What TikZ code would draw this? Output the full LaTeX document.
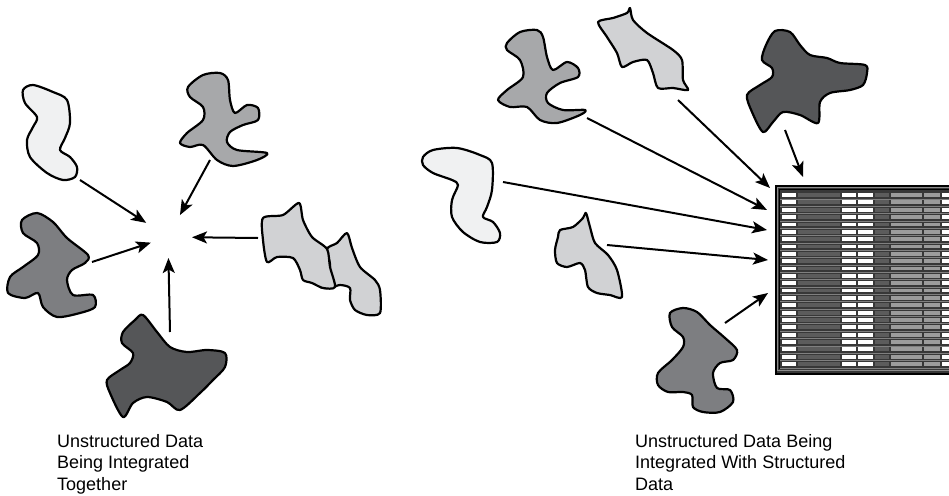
\documentclass[tikz,border=0pt]{standalone}
\usepackage{fontspec}
\setmainfont{Liberation Sans}
\usepackage{tikz}
\usetikzlibrary{arrows.meta,positioning}

\definecolor{blobpale}{HTML}{F0F1F2}
\definecolor{bloblight}{HTML}{D1D2D4}
\definecolor{blobmid}{HTML}{A7A8AA}
\definecolor{blobdim}{HTML}{7D7E81}
\definecolor{blobdark}{HTML}{555658}
\definecolor{celldark}{HTML}{5C5C5C}
\definecolor{cellmid}{HTML}{9C9C9C}

\begin{document}
\begin{tikzpicture}[
    x=1pt, y=-1pt,
    font=\fontsize{18}{21.5}\selectfont,
    blob/.style={draw=black, line width=2.2pt, line join=round},
    arrow/.style={-{Stealth[length=15pt,width=12pt,inset=3.5pt]}, line width=2pt},
    tablebox/.style={rectangle, draw=black, line width=1.6pt, fill=black!78, anchor=north west, inner sep=0pt, minimum width=200pt, minimum height=188pt},
    caption/.style={anchor=north west, inner sep=0pt, align=left}
]
    \useasboundingbox (0,0) rectangle (949,495);
    \clip (0,0) rectangle (949,495);

    \filldraw[blob, fill=blobpale] plot[smooth cycle] coordinates {(23,90) (33,85) (53,92) (67,100) (70,123) (65,138) (60,150) (70,157) (77,167) (75,177) (63,180) (47,173) (30,157) (27,140) (33,127) (37,117) (25,103)};
    \filldraw[blob, fill=blobmid] plot[smooth cycle] coordinates {(188,87) (203,75) (220,73) (228,80) (230,100) (235,113) (247,105) (258,108) (258,120) (243,125) (230,132) (227,142) (237,150) (267,153) (257,160) (233,166) (217,160) (203,145) (190,147) (180,143) (187,133) (203,120) (203,107) (190,97)};
    \filldraw[blob, fill=blobdim] plot[smooth cycle] coordinates {(22,220) (37,213) (53,222) (67,238) (88,255) (85,263) (72,270) (67,280) (73,295) (93,295) (95,307) (80,313) (57,317) (43,307) (38,293) (25,298) (8,293) (10,277) (23,267) (38,255) (37,243) (23,233)};
    \filldraw[blob, fill=blobdark] plot[smooth cycle] coordinates {(143,315) (157,332) (170,347) (187,352) (207,350) (225,353) (225,367) (213,380) (200,393) (180,410) (167,402) (147,397) (133,403) (123,417) (110,393) (107,380) (120,370) (130,363) (133,353) (122,343) (123,332) (135,320)};
    \filldraw[blob, fill=bloblight] plot[smooth cycle, tension=0.45] coordinates {(327,249) (337,243) (347,233) (352,248) (360,267) (375,280) (380,290) (380,313) (367,315) (355,310) (350,300) (350,288) (340,285) (330,288) (320,286) (330,267)};
    \filldraw[blob, fill=bloblight] plot[smooth cycle, tension=0.45] coordinates {(263,218) (283,215) (299,203) (303,220) (312,237) (327,249) (330,267) (335,287) (323,288) (312,283) (303,280) (300,270) (293,258) (277,257) (267,262) (263,240)};

    \coordinate (hub) at (168,237);
    \coordinate (pale) at (80,180);
    \coordinate (bird) at (210,160);
    \coordinate (lobe) at (92,262);
    \coordinate (cross) at (170,332);
    \coordinate (pages) at (258,238);

    \draw[arrow, shorten >=26pt] (pale) -- (hub);
    \draw[arrow, shorten >=25pt] (bird) -- (hub);
    \draw[arrow, shorten >=18pt] (lobe) -- (hub);
    \draw[arrow, shorten >=21pt] (cross) -- (hub);
    \draw[arrow, shorten >=24pt] (pages) -- (hub);

    \filldraw[blob, fill=blobmid] plot[smooth cycle] coordinates {(507,43) (520,32) (537,30) (543,37) (547,57) (553,70) (567,62) (578,68) (578,77) (560,83) (547,93) (548,103) (563,110) (585,110) (580,115) (557,123) (540,120) (527,107) (510,107) (498,100) (507,90) (523,77) (520,60) (507,50)};
    \filldraw[blob, fill=bloblight] plot[smooth cycle, tension=0.45] coordinates {(598,22) (613,18) (627,13) (630,8) (633,20) (647,33) (673,50) (682,60) (683,80) (688,90) (673,88) (658,88) (653,73) (647,60) (633,62) (622,67) (617,53) (607,37)};
    \filldraw[blob, fill=blobdark] plot[smooth cycle] coordinates {(762,60) (766,45) (775,31) (790,32) (800,45) (810,55) (827,58) (840,63) (865,65) (867,73) (863,85) (850,90) (830,93) (820,102) (818,123) (800,115) (783,112) (773,122) (763,132) (752,112) (747,95) (760,85) (772,77) (772,68)};
    \filldraw[blob, fill=blobpale] plot[smooth cycle] coordinates {(423,157) (433,150) (457,148) (480,155) (492,163) (492,190) (487,207) (483,217) (493,222) (500,233) (497,242) (480,242) (463,232) (452,217) (452,200) (458,185) (452,180) (433,173) (423,165)};
    \filldraw[blob, fill=bloblight] plot[smooth cycle, tension=0.45] coordinates {(560,230) (573,227) (583,218) (586,213) (590,227) (595,243) (608,255) (617,270) (622,297) (610,295) (597,293) (588,287) (585,270) (580,263) (567,267) (557,263) (555,250) (558,237)};
    \filldraw[blob, fill=blobdim] plot[smooth cycle] coordinates {(670,313) (683,308) (697,312) (710,325) (725,338) (737,350) (733,360) (720,363) (713,373) (717,388) (730,390) (733,402) (720,412) (703,412) (693,407) (692,395) (683,392) (668,392) (658,385) (658,373) (672,360) (683,347) (683,337) (672,327)};

    \node[tablebox] (tbl) at (775,185) {};
    \draw[black!45, line width=1pt] (777.5,187.5) rectangle (980,370.5);
    \draw[black, line width=1pt] (779.5,189.5) rectangle (980,368.5);
    \foreach \r in {0,...,23} {
        \pgfmathsetmacro\yy{195+7.35*\r}
        \draw[black!50, line width=0.4pt] (780,\yy+3.7) -- (980,\yy+3.7);
        \foreach \xa/\xb/\c in {782/796/white, 798/840/celldark, 842/856/white, 858/873/white, 875/889/celldark, 891/922/cellmid, 924/940/cellmid, 942/960/white}
            \fill[\c] (\xa,\yy-1.9) rectangle (\xb,\yy+1.9);
    }

    \coordinate (tipbird) at (767,210);
    \coordinate (tipflag) at (770,188);
    \coordinate (tipdark) at (803,177);
    \coordinate (tippale) at (767,230);
    \coordinate (tipleaf) at (768,260);
    \coordinate (tiplobe) at (768,293);
    \coordinate (rbird) at (587,118);
    \coordinate (rflag) at (678,100);
    \coordinate (rdark) at (785,130);
    \coordinate (rpale) at (503,182);
    \coordinate (rleaf) at (607,245);
    \coordinate (rlobe) at (725,323);

    \draw[arrow] (rbird) -- (tipbird);
    \draw[arrow] (rflag) -- (tipflag);
    \draw[arrow] (rdark) -- (tipdark);
    \draw[arrow] (rpale) -- (tippale);
    \draw[arrow] (rleaf) -- (tipleaf);
    \draw[arrow] (rlobe) -- (tiplobe);

    \node[caption] (capleft) at (57,434) {Unstructured Data\\Being Integrated\\Together};
    \node[caption] (capright) at (635,434) {Unstructured Data Being\\Integrated With Structured\\Data};
\end{tikzpicture}
\end{document}
